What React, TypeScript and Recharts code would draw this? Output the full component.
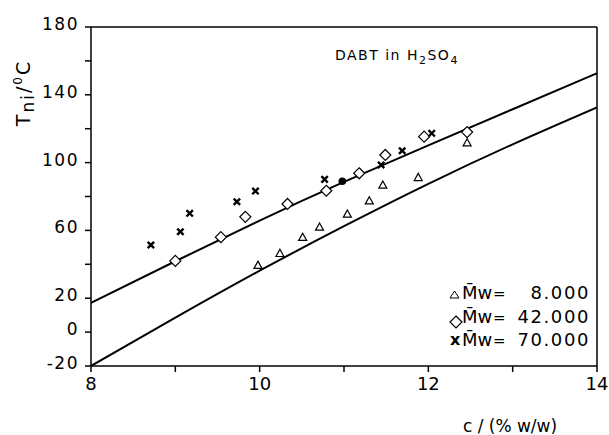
import React from "react";
import {
  ComposedChart,
  Line,
  Scatter,
  XAxis,
  YAxis,
  ReferenceLine,
} from "recharts";

// axis ticks
const cTicks = [8, 9, 10, 11, 12, 13, 14];
const cLabeled = [8, 10, 12, 14];
const tTicks = [-20, 0, 20, 40, 60, 80, 100, 120, 140, 160, 180];
const tLabeled = [-20, 0, 20, 60, 100, 140, 180];

// fitted curves
const fitC = [8, 9, 10, 11, 12, 13, 14];
const upperT = [17.3, 41.8, 65.8, 88.6, 110.2, 131.5, 152.7];
const lowerT = [-20, 8.5, 36.2, 62.5, 87.5, 110.8, 132.6];

// measured points, [c, Tni]
const mw8000 = [
  [9.98, 39.5],
  [10.24, 46.5],
  [10.51, 56],
  [10.71, 62],
  [11.04, 69.7],
  [11.3, 77.5],
  [11.46, 86.8],
  [11.88, 91.3],
  [12.46, 111.7],
];
const mw42000 = [
  [9.0, 42],
  [9.54, 56],
  [9.83, 68],
  [10.33, 75.6],
  [10.79, 83.4],
  [11.18, 93.7],
  [11.49, 104.5],
  [11.95, 115.3],
  [12.46, 118],
];
const mw70000 = [
  [8.71, 51.4],
  [9.06, 59.2],
  [9.17, 70.1],
  [9.73, 76.9],
  [9.95, 83.2],
  [10.77, 90.1],
  [11.44, 98.6],
  [11.69, 107],
  [12.04, 117.3],
];
const filledPts = [[10.98, 89]];

const FONT = "DejaVu Sans";

const toRows = (pts: number[][]) => pts.map(([c, t]) => ({ c, t }));
const upperData = fitC.map((c, i) => ({ c, t: upperT[i] }));
const lowerData = fitC.map((c, i) => ({ c, t: lowerT[i] }));

const Triangle = (props: any) => {
  const { cx, cy } = props;
  const s = 4;
  return (
    <path
      d={`M${cx},${cy - s} L${cx + s},${cy + s * 0.8} L${cx - s},${cy + s * 0.8} Z`}
      fill="#fff"
      stroke="#000"
      strokeWidth={1.2}
    />
  );
};

const Diamond = (props: any) => {
  const { cx, cy } = props;
  const s = 5.5;
  return (
    <path
      d={`M${cx},${cy - s} L${cx + s},${cy} L${cx},${cy + s} L${cx - s},${cy} Z`}
      fill="#fff"
      stroke="#000"
      strokeWidth={1.2}
    />
  );
};

const Cross = (props: any) => {
  const { cx, cy } = props;
  const s = 3.2;
  return (
    <path
      d={`M${cx - s},${cy - s} L${cx + s},${cy + s} M${cx + s},${cy - s} L${cx - s},${cy + s}`}
      stroke="#000"
      strokeWidth={2.4}
    />
  );
};

const Dot = (props: any) => {
  const { cx, cy } = props;
  return <circle cx={cx} cy={cy} r={3.8} fill="#000" />;
};

const legendRows = [
  { y: 299, value: "8.000" },
  { y: 323, value: "42.000" },
  { y: 346, value: "70.000" },
];

export default function App() {
  return (
    <div
      style={{
        position: "absolute",
        left: 0,
        top: 0,
        width: 609,
        height: 435,
        background: "#fff",
      }}
    >
      <ComposedChart
        width={609}
        height={435}
        margin={{ top: 27, right: 12, bottom: 39, left: 31 }}
      >
        <XAxis
          type="number"
          dataKey="c"
          domain={[8, 14]}
          ticks={cTicks}
          allowDataOverflow
          height={30}
          stroke="#000"
          strokeWidth={1.5}
          tickSize={6}
          tickMargin={5}
          tickFormatter={(v) => (cLabeled.includes(v) ? String(v) : "")}
          tick={{ fill: "#000", fontSize: 18, fontFamily: FONT }}
        />
        <YAxis
          type="number"
          dataKey="t"
          domain={[-20, 180]}
          ticks={tTicks}
          allowDataOverflow
          width={60}
          stroke="#000"
          strokeWidth={1.5}
          tickSize={6}
          tickMargin={6}
          tickFormatter={(v) => (tLabeled.includes(v) ? String(v) : "")}
          tick={{
            fill: "#000",
            fontSize: 17,
            fontFamily: FONT,
            letterSpacing: 1.5,
            dy: -3,
          }}
        />
        <ReferenceLine y={180} stroke="#000" strokeWidth={1.5} />
        <ReferenceLine x={14} stroke="#000" strokeWidth={1.5} />
        <Line
          data={upperData}
          dataKey="t"
          type="natural"
          stroke="#000"
          strokeWidth={2}
          dot={false}
          isAnimationActive={false}
        />
        <Line
          data={lowerData}
          dataKey="t"
          type="natural"
          stroke="#000"
          strokeWidth={2}
          dot={false}
          isAnimationActive={false}
        />
        <Scatter
          data={toRows(mw8000)}
          dataKey="t"
          shape={Triangle}
          isAnimationActive={false}
        />
        <Scatter
          data={toRows(mw42000)}
          dataKey="t"
          shape={Diamond}
          isAnimationActive={false}
        />
        <Scatter
          data={toRows(mw70000)}
          dataKey="t"
          shape={Cross}
          isAnimationActive={false}
        />
        <Scatter
          data={toRows(filledPts)}
          dataKey="t"
          shape={Dot}
          isAnimationActive={false}
        />
      </ComposedChart>

      {/* labels, annotation and legend drawn on top */}
      <svg
        width={609}
        height={435}
        style={{ position: "absolute", left: 0, top: 0, pointerEvents: "none" }}
        fontFamily={FONT}
        fill="#000"
      >
        <text
          x={30}
          y={93}
          transform="rotate(-90, 30, 93)"
          textAnchor="middle"
          fontSize={19}
          letterSpacing={2}
        >
          T
          <tspan fontSize={17} dy={4}>
            ni
          </tspan>
          <tspan dy={-4}>/</tspan>
          <tspan fontSize={12} dy={-8}>
            0
          </tspan>
          <tspan dy={8}>C</tspan>
        </text>
        <text x={510} y={432} textAnchor="middle" fontSize={17}>
          c / (% w/w)
        </text>
        <text x={335} y={60} fontSize={14} letterSpacing={1.5}>
          DABT in H
          <tspan fontSize={11} dy={4}>
            2
          </tspan>
          <tspan dy={-4}>SO</tspan>
          <tspan fontSize={11} dy={4}>
            4
          </tspan>
        </text>

        {/* legend */}
        <path d="M454.5,291 L459,298 L450,298 Z" fill="none" stroke="#000" strokeWidth={1} />
        <path
          d="M456,316 L462,322 L456,328 L450,322 Z"
          fill="none"
          stroke="#000"
          strokeWidth={1.2}
        />
        <text x={450} y={345} fontSize={16} fontWeight="bold">
          x
        </text>
        {legendRows.map((r) => (
          <g key={r.value}>
            <text x={462} y={r.y} fontSize={18}>
              M̄w
            </text>
            <text x={493} y={r.y} fontSize={15}>
              =
            </text>
            <text x={590} y={r.y} fontSize={18} letterSpacing={1.6} textAnchor="end">
              {r.value}
            </text>
          </g>
        ))}
      </svg>
    </div>
  );
}
